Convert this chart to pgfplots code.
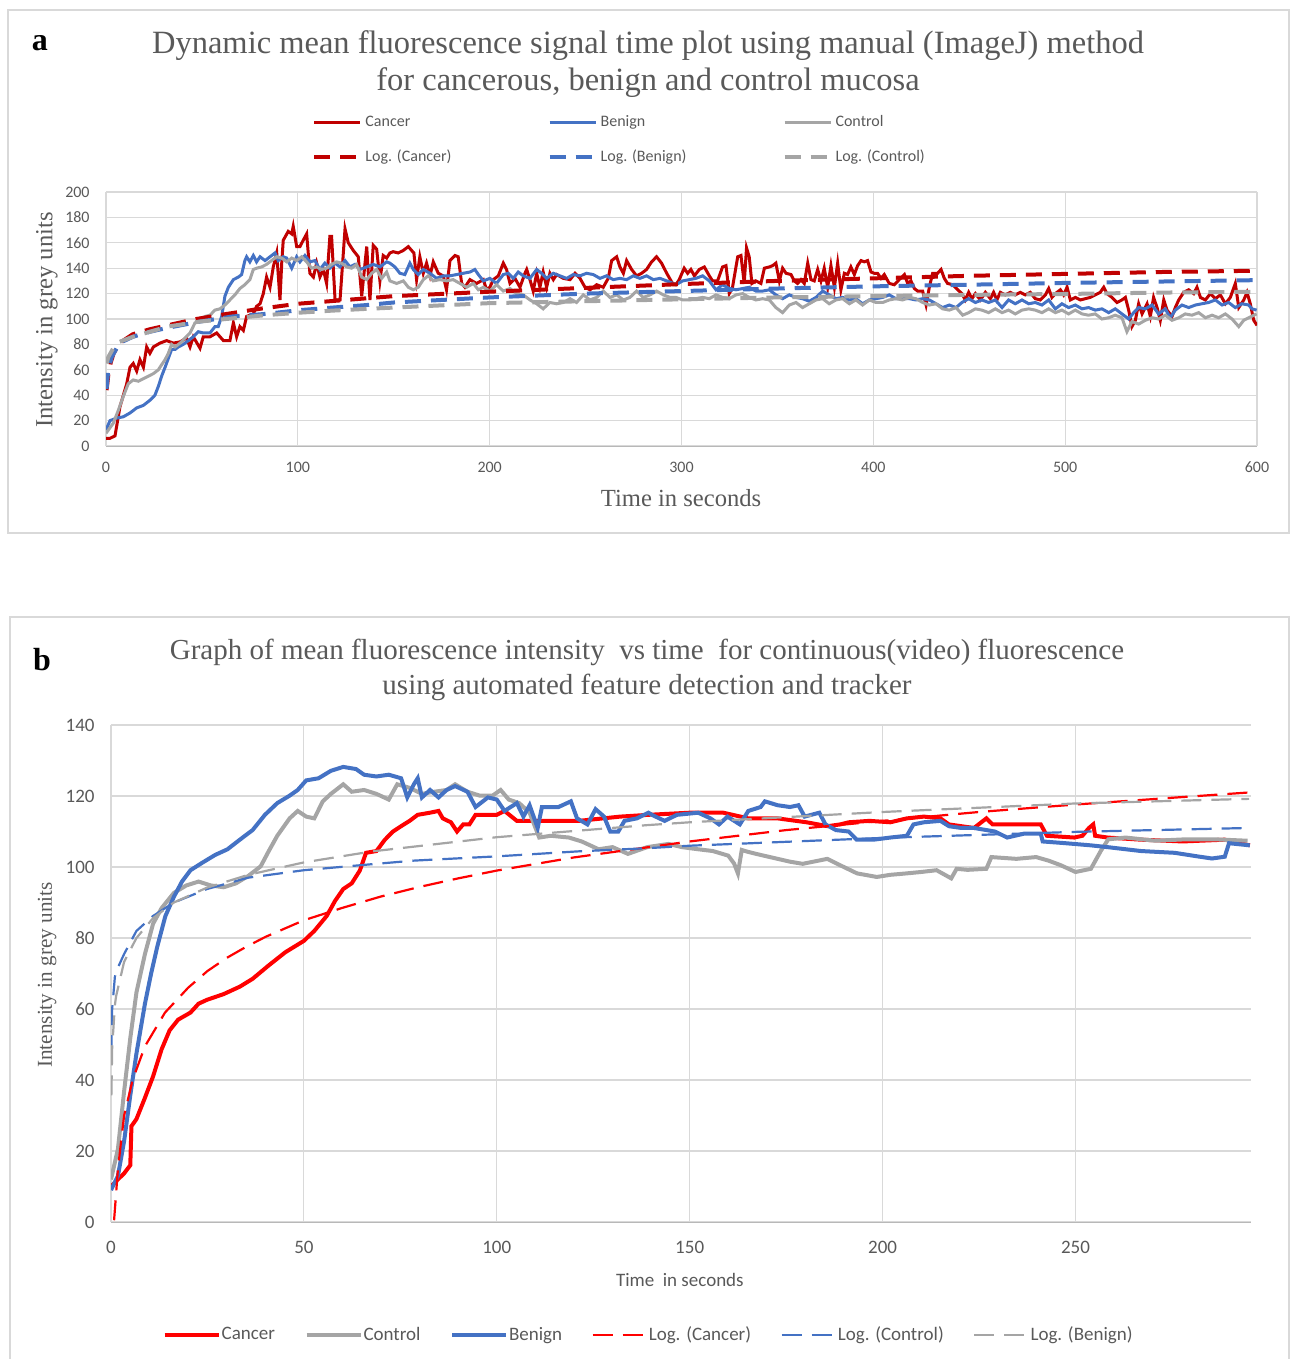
\documentclass[border=0pt]{standalone}
\usepackage{fontspec}
\setmainfont{Liberation Serif}
\newfontfamily\carlito{Carlito}
\usepackage{pgfplots}
\pgfplotsset{compat=1.18}

\definecolor{cancerA}{HTML}{C00000}
\definecolor{cancerB}{HTML}{FF0000}
\definecolor{benign}{HTML}{4472C4}
\definecolor{control}{HTML}{A5A5A5}
\definecolor{gridc}{HTML}{D9D9D9}
\definecolor{txt}{HTML}{595959}

\pgfplotsset{
  xlchart/.style={
    scale only axis,
    axis lines*=left,
    x axis line style={draw=black!28, -},
    y axis line style={draw=gridc, -},
    grid=major,
    grid style={gridc, line width=0.6pt},
    tick style={draw=none},
    /pgf/number format/assume math mode=true,
    tick label style={font=\carlito\fontsize{8}{9}\selectfont, text=txt},
    yticklabel style={anchor=east, inner sep=0pt, xshift=-8pt},
    xticklabel style={anchor=center, inner sep=0pt, yshift=-10.5pt},
    legend cell align=left,
  },
}

\begin{document}
\begin{tikzpicture}
\path[use as bounding box] (0,0) rectangle (647.5pt,-679.5pt);
% panel frames
\draw[gridc, line width=0.6pt] (4pt,-5pt) rectangle (644.5pt,-266.5pt);
\draw[gridc, line width=0.6pt] (5pt,-700pt) -- (5pt,-308.5pt) -- (644.5pt,-308.5pt) -- (644.5pt,-700pt);

% ---------------- panel a ----------------
\node[font=\bfseries\fontsize{16}{19}\selectfont] at (20pt,-21.5pt) {a};
\node[text=txt, font=\fontsize{16.25}{18.5}\selectfont, align=center] at (324pt,-32pt)
  {Dynamic mean fluorescence signal time plot using manual (ImageJ) method\\for cancerous, benign and control mucosa};

\begin{axis}[xlchart,
  at={(53pt,-223pt)}, anchor=south west,
  width=575.5pt, height=127pt,
  xmin=0, xmax=600, ymin=0, ymax=200,
  xtick={0,100,...,600}, ytick={0,20,...,200},
  xlabel={Time in seconds},
  ylabel={Intensity in grey units},
  xlabel style={at={(axis description cs:0.4996,-0.2047)}, anchor=center, text=txt, font=\fontsize{12.3}{14}\selectfont},
  ylabel style={at={(axis description cs:-0.0513,0.496)}, anchor=center, rotate=0, text=txt, font=\fontsize{12.3}{14}\selectfont},
  legend columns=3,
  legend style={draw=none, fill=none, inner sep=0pt,
    at={(axis description cs:0.179,1.2066)}, anchor=west,
    font=\carlito\fontsize{8}{9}\selectfont, text=txt,
    nodes={inner sep=1pt, text height=6pt, text depth=1.5pt},
    row sep=8pt,
    /tikz/every odd column/.append style={column sep=0.5pt},
    /tikz/every even column/.append style={column sep=47pt}},
  legend image code/.code={\draw[#1] (0pt,0pt) -- (23pt,0pt);},
]
% Cancer
\addplot[cancerA, line width=1.5pt] coordinates {
(0,6)(2,6)(4.7,8)(7.3,31)(10.8,49)(12.5,62)(14.2,65)(16,59)(17.7,68)(19.5,62)(21.2,78)(22.9,73)(24.7,78)(28.1,81)(31.6,83)(35.1,81)(38.6,82)(42,85)(43.8,78)(45.5,86)(49,77)(50.7,86)(54.2,86)(57.7,89)(61.2,83)(64.6,83)(66.4,97)(68.1,86)(69.8,94)(71.6,91)(73.3,102)(76.8,104)(78.5,110)(80.3,112)(82,120)(83.7,133)(85.5,125)(87.2,141)(89,152)(90.7,115)(91.6,144)(92.4,162)(95,169)(96.8,167)(97.6,173)(99.4,157)(101.1,157)(102.8,162)(104.6,167)(106.3,136)(108.1,133)(109.8,144)(111.5,133)(113.3,139)(115,128)(116.7,165)(117.6,165)(119.4,115)(122,115)(124.6,171)(126.3,160)(128.9,154)(131.5,149)(133.3,118)(135.9,157)(137.6,115)(139.3,158)(141.1,155)(142.8,130)(144.5,150)(146.3,148)
(148,152)(149.7,153)(152.3,152)(155,154)(157.6,157)(159.3,154)(160.5,152)(161.9,131)(163.6,149)(165.4,136)(167.1,144)(168.9,134)(170.6,145)(173.2,136)(175.8,134)(177.5,123)(179.3,146)(181.9,150)(183.6,149)(185.4,128)(187.1,125)(189.7,131)(193.2,128)(196.7,131)(198.4,123)(200.1,125)(201.9,131)(204.5,134)(207.1,144)(208.8,139)(210.6,128)(213.2,132)(215.8,125)(218.4,136)(219.3,139)(221,131)(222.7,122)(224.5,136)(226.2,125)(227.9,137)(229.7,125)(231.4,136)(233.2,131)(234.9,135)(238.4,132)(241.9,131)(244.5,136)(247.1,132)(249.7,125)(252.3,123)(255.8,127)(259.2,125)(261.8,132)(263.6,146)(266.2,149)(267.9,141)(269.7,136)(271.4,146)(274,139)(276.6,134)(279.2,136)(281.8,139)(284.4,145)(287,149)(289.6,144)(292.3,136)(295.7,127)
(297.1,127)(298.8,131)(301.4,140)(303.2,136)(304.9,139)(306.7,134)(309.3,139)(311.9,141)(314.5,134)(316.2,130)(318.8,130)(321.4,141)(323.2,142)(324.9,120)(326.6,125)(329.3,149)(331,150)(332.7,128)(333.9,156)(335.3,149)(336.7,128)(338.8,130)(341.4,128)(343.2,140)(345.8,141)(347.5,142)(349.2,144)(351,130)(352.7,140)(354.5,136)(357.1,135)(358.8,130)(360.5,128)(362.3,131)(364,128)(365.8,144)(367.5,131)(369.2,130)(371,139)(372.7,130)(374.4,140)(376.2,125)(377.9,142)(379.7,125)(381.4,144)(383.1,123)(384.9,136)(386.6,135)(388.3,141)(390.1,135)(391.8,142)(393.6,146)(395.3,145)(397,146)(398.8,137)(400.5,136)(402.2,136)(404,132)(405.7,135)(408.3,128)(410.9,127)(413.5,131)(416.2,135)(417.9,128)(419.6,130)(421.4,124)(423.1,122)(425.7,122)(427.5,111)(429.2,125)(430.9,136)(433.5,136)(435.3,139)(437,132)(438.7,128)(441.4,127)(444,123)
(446.2,120)(447.9,115)(449.7,121)(451.4,116)(453.2,120)(455.8,115)(458.4,121)(461,116)(462.7,121)(464.4,115)(466.2,121)(468.8,119)(471.4,121)(474,119)(476.6,121)(479.2,119)(481.8,121)(484.4,116)(487,115)(489.7,119)(491.4,124)(493.1,117)(494.9,120)(497.5,123)(499.2,119)(501,125)(502.7,115)(505.3,117)(507.9,115)(510.5,116)(513.1,117)(515.7,119)(518.3,121)(520.1,125)(521.8,120)(524.4,117)(527,113)(529.6,115)(531.4,117)(533.1,107)(534.8,94)(536.6,99)(538.3,112)(540.1,104)(542.7,112)(544.4,102)(546.1,117)(547.9,109)(549.6,99)(551.4,115)(553.1,107)(555.7,102)(557.4,109)(559.2,115)(561.8,121)(564.4,123)(567,120)(568.7,125)(570.5,117)(573.1,115)(575.7,120)(578.3,116)(580.9,119)(583.5,112)(586.1,117)(588.7,128)(590.5,109)(593.1,115)(594.8,121)(596.5,112)(598.3,99)(600,95)
};
\addlegendentry{Cancer}
% Benign
\addplot[benign, line width=1.5pt] coordinates {
(0,12.6)(2.1,20)(5.6,22)(9,23)(12.5,26)(16,30)(19.5,32)(22.9,36)(25.5,40)(27.3,47)(29,55)(30.8,62)(32.5,69)(34.2,76)(36,76)(37.7,78)(40.3,80)(42.9,83)(45.5,86)(48.1,90)(50.7,89)(54.2,89)(56.8,94)(58.5,94)(60.3,102)(62,118)(63.8,125)(66.4,131)(69,133)(70.7,135)(72.4,146)(73.3,149)(75,145)(76.8,150)(78.5,145)(80.3,149)(82.9,146)(85.5,149)(88.1,152)(89.8,146)(92.4,149)(94.2,148)(96.8,140)(99.4,149)(101.1,145)(103.7,150)(106.3,145)(108.9,146)(111.5,139)(114.1,144)(116.7,140)(119.4,144)(122,141)(124.6,146)(127.2,141)(129.8,143)(132.4,139)(135.9,141)(139.3,143)(142.8,141)(146.3,145)
(148,144)(150.6,141)(153.2,136)(155.8,135)(158.4,144)(160.2,139)(162.8,135)(165.4,139)(168.9,136)(172.3,132)(175.8,134)(179.3,134)(182.8,135)(186.2,136)(189.7,137)(192.3,139)(194.1,135)(196.7,130)(200.1,132)(203.6,128)(207.1,135)(209.7,136)(212.3,132)(214.9,137)(217.5,134)(221,132)(224.5,139)(227.1,136)(229.7,132)(233.2,136)(236.6,134)(240.1,132)(243.6,135)(247.1,134)(250.5,136)(254,135)(257.5,132)(260.9,134)(264.4,131)(267.9,132)(271.4,131)(274.9,134)(278.3,132)(281.8,134)(285.3,131)(288.8,132)(292.3,130)(295.7,128)
(297.1,127)(300.6,130)(304.1,131)(307.5,132)(311,134)(314.5,130)(318,123)(321.4,127)(324.9,124)(328.4,123)(331.9,124)(335.3,125)(338.8,122)(342.3,122)(345.8,123)(349.2,119)(352.7,116)(356.2,119)(359.7,117)(363.1,116)(366.6,114)(370.1,117)(373.6,122)(377,119)(380.5,116)(384,117)(387.5,115)(390.9,116)(394.4,112)(397.9,115)(401.4,116)(404.9,117)(408.3,119)(411.8,116)(415.3,116)(418.8,116)(422.2,115)(425.7,116)(429.2,115)(432.7,112)(436.1,109)(439.6,111)(443.1,109)
(446.2,113)(449.7,116)(453.2,113)(456.6,115)(460.1,113)(463.6,115)(467.1,109)(470.5,115)(474,112)(477.5,115)(481,112)(484.4,113)(487.9,111)(491.4,115)(494.9,108)(498.3,112)(501.8,109)(505.3,111)(508.8,108)(512.2,109)(515.7,107)(519.2,108)(522.7,105)(526.1,108)(529.6,104)(533.1,100)(535.7,105)(538.3,109)(541.8,108)(545.3,111)(548.7,104)(552.2,108)(554.8,101)(557.4,107)(560.9,111)(564.4,109)(567.9,111)(571.3,112)(574.8,113)(578.3,115)(581.8,111)(585.2,113)(588.7,109)(592.2,112)(595.7,111)(597.4,108)(599.8,107)
};
\addlegendentry{Benign}
% Control
\addplot[control, line width=1.5pt] coordinates {
(0,10)(3.8,18)(6.4,28)(9,39)(11.6,49)(14.2,52)(16.9,51)(19.5,53)(22.1,55)(24.7,57)(27.3,60)(29,64)(30.8,68)(32.5,73)(34.2,80)(36,78)(38.6,81)(41.2,85)(43.8,89)(46.4,97)(49,99)(51.6,102)(54.2,103)(56.8,107)(59.4,108)(62,111)(64.6,115)(67.2,119)(69.8,124)(72.4,127)(75,131)(76.8,139)(78.5,140)(81.1,141)(83.7,143)(86.3,146)(89,149)(91.6,148)(94.2,145)(96.8,148)(99.4,146)(102,149)(104.6,145)(107.2,140)(109.8,141)(112.4,139)(115,140)(117.6,143)(120.2,145)(122.8,144)(125.4,141)(128,140)(130.6,143)(133.3,133)(135.9,131)(138.5,136)(141.1,139)(143.7,132)(146.3,137)
(148,130)(151.5,128)(155,130)(157.6,125)(160.2,123)(162.8,125)(165.4,131)(168,134)(170.6,130)(174.1,131)(177.5,130)(181,131)(184.5,128)(188,125)(191.5,128)(194.1,123)(196.7,125)(200.1,122)(203.6,127)(207.1,122)(210.6,124)(214,120)(217.5,119)(221,115)(224.5,112)(227.9,108)(231.4,113)(234.9,112)(238.4,113)(241.9,116)(245.3,113)(248.8,119)(252.3,115)(255.8,117)(259.2,122)(262.7,117)(266.2,119)(269.7,115)(273.1,117)(276.6,122)(280.1,117)(283.6,119)(287,122)(290.5,119)(294,117)
(297.1,117)(300.6,115)(304.1,115)(307.5,116)(311,117)(314.5,116)(318,119)(321.4,117)(324.9,116)(328.4,119)(331.9,120)(335.3,117)(338.8,115)(342.3,116)(345.8,115)(349.2,109)(352.7,105)(356.2,111)(359.7,113)(363.1,109)(366.6,112)(370.1,115)(373.6,116)(377,112)(380.5,115)(384,116)(387.5,112)(390.9,115)(394.4,111)(397.9,115)(401.4,113)(404.9,113)(408.3,115)(411.8,116)(415.3,115)(418.8,117)(422.2,116)(425.7,113)(429.2,111)(432.7,112)(436.1,108)(439.6,107)(443.1,109)(446.6,103)
(449.7,105)(453.2,108)(456.6,107)(460.1,105)(463.6,108)(467.1,105)(470.5,107)(474,104)(477.5,107)(481,108)(484.4,107)(487.9,105)(491.4,108)(494.9,105)(498.3,107)(501.8,104)(505.3,107)(508.8,104)(512.2,103)(515.7,104)(519.2,100)(522.7,101)(526.1,103)(529.6,101)(532.2,90)(534.8,98)(538.3,96)(541.8,99)(545.3,101)(548.7,100)(552.2,103)(555.7,99)(559.2,101)(562.6,104)(566.1,103)(569.6,105)(573.1,101)(576.6,103)(580,101)(583.5,104)(587,100)(590.5,94)(593.1,99)(595.7,101)(598.3,103)(599.8,104)
};
\addlegendentry{Control}
% log trend lines
\addplot[cancerA, line width=2pt, dash pattern=on 8pt off 5pt] coordinates {
(0.3,44)(1.2,56)(2.5,66)(4,73)(7,81)(14,88)(23,92)(32,95)(47,100)(63,104)(80,108)(100,112)(125,115)(150,118)(200,121.5)(250,124.5)(300,127.5)(350,130)(400,132)(450,134)(500,135.5)(550,137)(600,138)
};
\addlegendentry{Log. (Cancer)}
\addplot[benign, line width=2pt, dash pattern=on 8pt off 5pt] coordinates {
(0.3,45)(1.2,60)(3,70)(7,81)(14,86)(23,90)(32,93)(49,98)(66,102)(83,104)(101,107)(118,109)(136,111)(150,113)(200,117)(250,120)(300,122)(350,124)(400,125.7)(450,127)(500,128.4)(550,129.5)(600,130.6)
};
\addlegendentry{Log. (Benign)}
\addplot[control, line width=2pt, dash pattern=on 8pt off 5pt] coordinates {
(0.3,65)(1.2,70)(3.8,77)(7,82)(14,86)(23,90)(32,94)(49,98)(66,100.5)(83,103)(101,105)(118,106.6)(136,108)(150,109)(200,112.5)(250,114)(300,115.5)(350,117)(400,118)(450,119)(500,119.7)(550,120.8)(600,121.5)
};
\addlegendentry{Log. (Control)}
\end{axis}

% ---------------- panel b ----------------
\node[font=\bfseries\fontsize{16}{19}\selectfont] at (21pt,-330pt) {b};
\node[text=txt, font=\fontsize{14.5}{17.5}\selectfont, align=center] at (323.5pt,-334.75pt)
  {Graph of mean fluorescence intensity\ \ vs time\ \ for continuous(video) fluorescence\\using automated feature detection and tracker};

\begin{axis}[xlchart,
  at={(55.5pt,-611pt)}, anchor=south west,
  width=570pt, height=248.5pt,
  xmin=0, xmax=295.5, ymin=0, ymax=140,
  xtick={0,50,...,250}, ytick={0,20,...,140},
  tick label style={font=\carlito\fontsize{9.5}{11}\selectfont},
  xticklabel style={yshift=-2pt},
  xlabel={Time\ \ in seconds},
  ylabel={Intensity in grey units},
  xlabel style={at={(axis description cs:0.499,-0.1167)}, anchor=center, text=txt, font=\carlito\fontsize{9.5}{11}\selectfont},
  ylabel style={at={(axis description cs:-0.0561,0.497)}, anchor=center, rotate=0, text=txt, font=\fontsize{10.6}{12}\selectfont},
  legend columns=6,
  legend style={draw=none, fill=none, inner sep=0pt,
    at={(axis description cs:0.045,-0.2274)}, anchor=west,
    font=\carlito\fontsize{9.5}{11}\selectfont, text=txt,
    nodes={inner sep=1pt},
    /tikz/every odd column/.append style={column sep=-0.5pt},
    /tikz/every even column/.append style={column sep=13.75pt}},
  legend image code/.code={\draw[#1] (0pt,0pt) -- (27pt,0pt);},
]
% Cancer
\addplot[cancerB, line width=2pt] coordinates {
(0,10)(1.8,12)(3.4,13.7)(5,16)(5.3,27)(6.6,29)(8.8,35)(10.9,41)(13.1,48.6)(15.2,54)(17.4,57)(20.6,59)(22.7,61.5)(24.9,62.6)(29.2,64.2)(33.4,66.3)(36.7,68.5)(40.9,72.3)(45.2,76)(50,79.2)(52.7,82)(55.9,86.2)(58.1,90.5)(60.2,93.8)(62.4,95.4)(64.5,99)(66.1,104)(68.8,104.5)(71,107.7)(73.1,110)(75.2,111.5)(77.4,113)(79.5,114.7)(82.7,115.3)(84.9,115.8)(86,113.7)(88.1,112.6)(89.7,110)(91.3,112)(92.9,112)(94.5,114.7)(100,114.7)(102,115.8)(105.2,113)(110.6,113)(121.3,113)(132,114.2)(139.3,114.7)
(150,115.3)(158.7,115.3)(165.2,113.7)(172.8,113.7)(180.3,112.6)(185.8,111.5)(189,112)(191.2,112.6)(196.6,113)(202,112.6)(206.3,113.7)(210.7,114.2)(215,113.7)(217.2,112)(220.4,111.5)(223.7,111)(226.9,113.7)(228.5,112)(234.5,112)(241,112)(242.6,108.8)(249.7,108.3)(251.8,108.8)(253.5,111)(254.6,112)(255.1,108.8)(258.3,108.3)(267,107.7)(277.8,107.2)(288.7,107.7)(295.2,106.1)
};
\addlegendentry{Cancer}
% Control
\addplot[control, line width=2pt] coordinates {
(0,12)(1.8,20.6)(3.4,36.8)(5,51.8)(6.6,64.7)(8.8,75.5)(10.9,84)(13.1,88.4)(16.3,92.7)(19.5,94.8)(22.7,95.9)(25.9,94.8)(29.2,94.3)(32.4,95.4)(35.6,97.5)(38.8,100.2)(40.9,104.5)(43.1,108.8)(46.3,113.7)(48.4,115.8)(50.6,114.2)(52.7,113.7)(54.9,118.5)(57,120.6)(60.2,123.3)(62.4,121.2)(65.6,121.7)(68.8,120.6)(72,119)(74.2,123.3)(77.4,122.3)(80.6,120.6)(83.8,121.2)(87,121.7)(89.2,123.3)(92.4,121.2)(95.6,120.1)(98.9,120.1)(101,121.7)(103.1,119)(105.8,118)(108.5,115.3)(111,108.3)(114,108.8)(118.7,108.3)(122,107.2)(126.4,105)(130,105.6)(134,103.7)(139,105.6)(144.5,106.5)(148,105.6)(152.2,105)(156,104.5)(160,103.2)(161.5,101)(162.5,98.2)(163.5,104.8)(165,104.3)(168,103.5)(172.8,102.3)(176,101.5)(179.3,100.9)(185.7,102.3)(189,100.5)(193.4,98.2)(198.5,97.2)(202,97.8)(206.2,98.2)(210,98.6)(214,99.1)(217.8,96.8)(219.2,99.5)(222,99.2)(226.9,99.5)(228.2,102.8)(234.7,102.3)(239.8,102.8)(243,101.8)(246.2,100.5)(250,98.6)(254,99.5)(256.6,104.6)(258.5,107.8)(263,108.3)(270.7,107.4)(278.5,107.8)(286.2,107.8)(294.6,107.4)
};
\addlegendentry{Control}
% Benign
\addplot[benign, line width=2pt] coordinates {
(0,9)(1.8,13)(3.4,22.8)(5,35.7)(6.6,47.5)(8.8,61.5)(10.4,70)(12,77.6)(14.1,86.2)(16.3,91.6)(18.4,95.9)(20.6,99.1)(23.8,101.3)(27,103.4)(30.2,105)(33.4,107.7)(36.7,110.4)(39.9,114.7)(43.1,118)(46.3,120.1)(48.4,121.7)(50.6,124.4)(53.8,125)(57,127.1)(60.2,128.2)(63.5,127.6)(65.6,126)(68.8,125.5)(72,126)(75.2,125)(76.8,119.6)(78.5,123.3)(79.5,125)(80.6,119.6)(82.7,121.7)(84.9,119.6)(87,121.7)(89.2,122.8)(92.4,121.2)(94.5,116.9)(97.7,119.6)(100,119)(102,115.8)(105.2,118)(106.9,114.2)(108.5,117.4)(110.6,111)(111.7,116.9)(116,116.9)(119.2,118.5)(120.8,113.7)(123.5,112)(125.6,116.3)(127.8,114.2)(129.4,110)(131.5,110)(133.1,113)(136.3,113.7)(139.3,115.3)
(140.2,114.7)(143.5,113)(146.7,114.7)(152.2,115.3)(155.4,113.7)(157.6,112)(159.8,114.2)(163,112)(165.2,115.8)(168.4,116.9)(169.5,118.5)(172.8,117.4)(176,116.9)(178.2,117.4)(179.8,114.2)(183.6,115.3)(185.2,112)(187.9,110.4)(191.2,110)(193.3,107.7)(197.7,107.7)(202,108.3)(206.3,108.8)(208,112)(210.7,112.6)(215,113)(217.2,111.5)(220.4,111)(223.7,111)(229.1,110)(232.3,108.3)(236.7,109.4)(241,109.4)(241.5,107.2)(247.5,106.7)(254,106.1)(258.3,105.6)(267,104.5)(275.7,104)(282.2,102.9)(285.4,102.4)(288.7,102.9)(289.8,106.7)(295.2,106.1)
};
\addlegendentry{Benign}
% log trend lines
\addplot[cancerB, line width=1.1pt, dash pattern=on 10pt off 5pt] coordinates {
(0.8,0.5)(1.8,15)(3.4,30)(5.6,40)(8.8,49.5)(14,59)(20,66)(25,70.7)(30,74.4)(35,77.5)(40,80.3)(50,85)(60,88.5)(70,91.7)(80,94.4)(90,96.8)(100,99)(120,102.7)(150,107.2)(175,110.4)(200,113)(225,115.5)(250,117.6)(275,119.5)(295,121)
};
\addlegendentry{Log. (Cancer)}
\addplot[benign, line width=1.1pt, dash pattern=on 10pt off 5pt] coordinates {
(0.05,47)(0.3,60)(1,69)(1.3,70.5)(3.4,75.5)(6.6,82)(10.9,86.2)(16.3,90)(24.9,93.8)(35.6,97)(50,99.1)(67.7,100.8)(78.5,101.8)(100,103)(121,104.4)(139,105.3)(150,106)(200,108.2)(250,109.9)(295,111)
};
\addlegendentry{Log. (Control)}
\addplot[control, line width=1.1pt, dash pattern=on 10pt off 5pt] coordinates {
(0.1,35.7)(0.3,49)(1,61)(1.3,63.5)(3.4,73.3)(6.6,80)(10.9,85.6)(16.3,90)(24.9,94.2)(35.6,97.8)(50,101.3)(67.7,104.4)(100,108.4)(139,111.8)(150,112.6)(200,115.5)(250,117.9)(295,119.2)
};
\addlegendentry{Log. (Benign)}
\end{axis}
\end{tikzpicture}
\end{document}
